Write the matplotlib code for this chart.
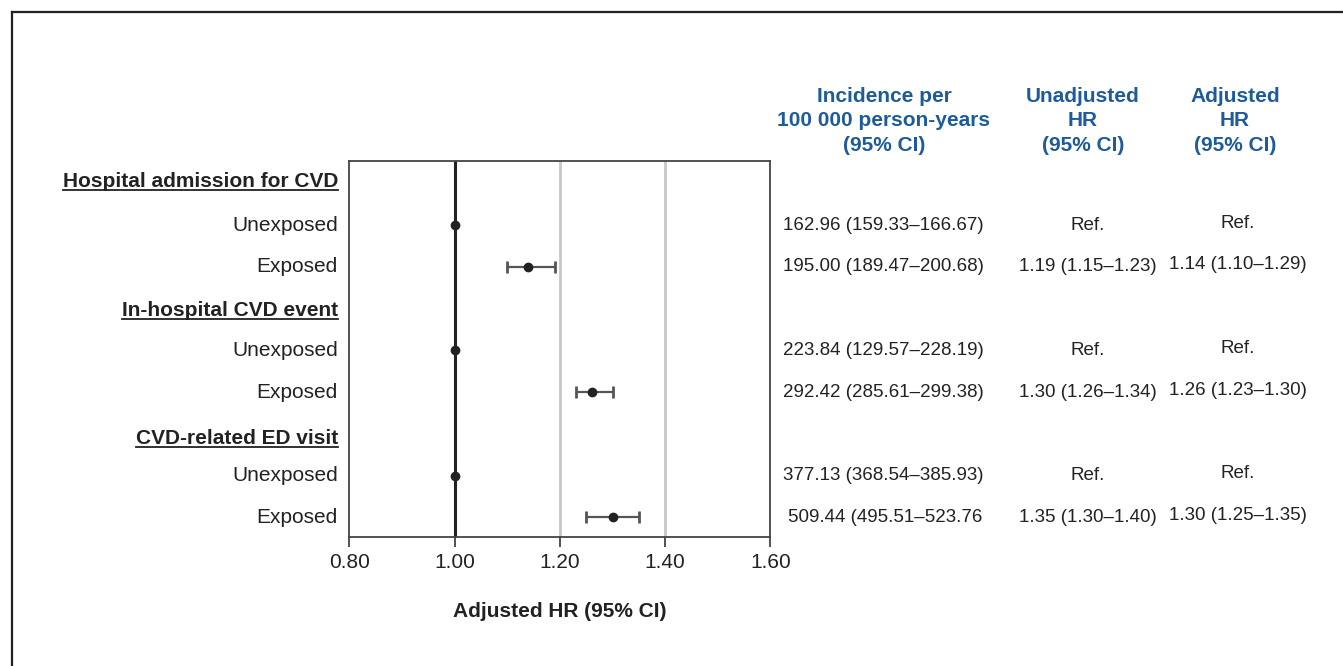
"""Forest plot: HR ajuste par type d'evenement CVD, avec tableau a droite."""
import numpy as np
import matplotlib.pyplot as plt
from matplotlib.transforms import blended_transform_factory
from matplotlib.lines import Line2D

plt.rcParams["font.family"] = ["Liberation Sans", "DejaVu Sans"]

BLEU = "#1d5b9b"

groupes = ["Hospital admission for CVD", "In-hospital CVD event", "CVD-related ED visit"]
lignes = ["Unexposed", "Exposed"] * 3
hr = [1.00, 1.14, 1.00, 1.26, 1.00, 1.30]
hr_bas = [np.nan, 1.10, np.nan, 1.23, np.nan, 1.25]
hr_haut = [np.nan, 1.19, np.nan, 1.30, np.nan, 1.35]

incidence = [
    "162.96 (159.33–166.67)",
    "195.00 (189.47–200.68)",
    "223.84 (129.57–228.19)",
    "292.42 (285.61–299.38)",
    "377.13 (368.54–385.93)",
    "509.44 (495.51–523.76",
]
hr_brut = ["Ref.", "1.19 (1.15–1.23)", "Ref.", "1.30 (1.26–1.34)", "Ref.", "1.35 (1.30–1.40)"]
hr_ajuste = ["Ref.", "1.14 (1.10–1.29)", "Ref.", "1.26 (1.23–1.30)", "Ref.", "1.30 (1.25–1.35)"]

entetes = [
    "Incidence per\n100 000 person-years\n(95% CI)",
    "Unadjusted\nHR\n(95% CI)",
    "Adjusted\nHR\n(95% CI)",
]
xticks = [0.80, 1.00, 1.20, 1.40, 1.60]

W, H = 1343, 666
fig = plt.figure(figsize=(W / 100, H / 100), dpi=100)
ax = fig.add_axes([349.4 / W, 1 - 537.3 / H, 421.1 / W, 376.3 / H])

pos_lignes = [0, 1, 3, 4, 6, 7]
pos_groupes = [-1.05, 2.05, 5.1]

ax.set_xlim(0.8, 1.6)
ax.set_ylim(7.48, -1.54)

# lignes verticales
ax.axvline(1.0, color="#222222", lw=2.2, zorder=2)
for v in (1.2, 1.4):
    ax.axvline(v, color="#c8c8c8", lw=2.0, zorder=1)

hr_arr = np.array(hr)
err = np.array([hr_arr - np.array(hr_bas), np.array(hr_haut) - hr_arr])
ax.errorbar(hr, pos_lignes, xerr=err, fmt="o", color="#222222", ms=6,
            ecolor="#555555", elinewidth=1.6, capsize=4.5, capthick=2.0, zorder=3)

for s in ax.spines.values():
    s.set_color("#444444")
    s.set_linewidth(1.3)
ax.set_yticks([])
ax.set_xticks(xticks)
ax.set_xticklabels([f"{t:.2f}" for t in xticks], fontsize=15, color="#222222")
ax.tick_params(axis="x", direction="out", length=7, width=1.3, color="#444444", pad=4)
ax.set_xlabel("Adjusted HR (95% CI)", fontsize=15, fontweight="bold",
              color="#222222", labelpad=22)

trans = blended_transform_factory(fig.transFigure, ax.transData)

# etiquettes a gauche
x_lab = 338 / W
for y, lab in zip(pos_lignes, lignes):
    ax.text(x_lab, y, lab, transform=trans, ha="right", va="center",
            fontsize=15, color="#222222")
titres = []
for y, g in zip(pos_groupes, groupes):
    t = ax.text(x_lab, y, g, transform=trans, ha="right", va="center",
                fontsize=15, fontweight="bold", color="#222222")
    titres.append(t)

# tableau
for i, (y, a, b, c) in enumerate(zip(pos_lignes, incidence, hr_brut, hr_ajuste)):
    x_inc = 788 if i == 5 else 783  # la derniere ligne est decalee dans l'original
    ax.text(x_inc / W, y, a, transform=trans, ha="left", va="center",
            fontsize=13.5, color="#222222")
    ax.text(1088 / W, y, b, transform=trans, ha="center", va="center",
            fontsize=13.5, color="#222222")
    ax.text(1238 / W, y - 0.05, c, transform=trans, ha="center", va="center",
            fontsize=13.5, color="#222222")

for xc, e in zip([884, 1083, 1235], entetes):
    fig.text(xc / W, 1 - 121 / H, e, ha="center", va="center", fontsize=15,
             fontweight="bold", color=BLEU, linespacing=1.34)

# cadre (haut et gauche)
fig.add_artist(Line2D([12 / W, 12 / W], [0, 1 - 12 / H], transform=fig.transFigure,
                      color="#222222", lw=1.6))
fig.add_artist(Line2D([12 / W, 1], [1 - 12 / H, 1 - 12 / H], transform=fig.transFigure,
                      color="#222222", lw=1.6))

# soulignement des titres de groupe
fig.canvas.draw()
rend = fig.canvas.get_renderer()
for t in titres:
    bb = t.get_window_extent(renderer=rend)
    yb = bb.y0 + 1
    fig.add_artist(Line2D([bb.x0 / W, bb.x1 / W], [yb / H, yb / H],
                          transform=fig.transFigure, color="#222222", lw=1.3))

fig.savefig("out.png", dpi=100, facecolor="white")
